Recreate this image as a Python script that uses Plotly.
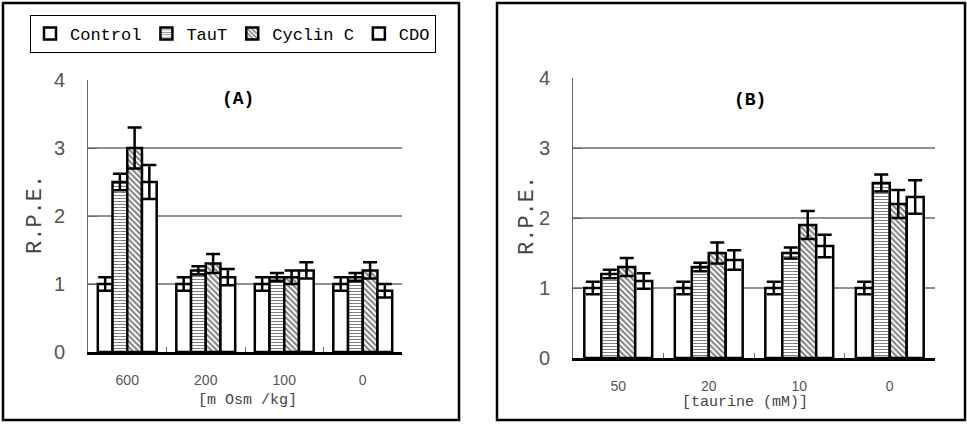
import plotly.graph_objects as go

# ---------------- data ----------------
series_names = ["Control", "TauT", "Cyclin C", "CDO"]

osm_labels = ["600", "200", "100", "0"]
A_control = [1.0, 1.0, 1.0, 1.0]
A_control_err = [0.1, 0.1, 0.1, 0.1]
A_taut = [2.5, 1.2, 1.1, 1.1]
A_taut_err = [0.12, 0.06, 0.06, 0.06]
A_cyclin = [3.0, 1.3, 1.1, 1.2]
A_cyclin_err = [0.3, 0.14, 0.1, 0.12]
A_cdo = [2.5, 1.1, 1.2, 0.9]
A_cdo_err = [0.25, 0.12, 0.12, 0.1]

taurine_labels = ["50", "20", "10", "0"]
B_control = [1.0, 1.0, 1.0, 1.0]
B_control_err = [0.09, 0.09, 0.09, 0.09]
B_taut = [1.2, 1.3, 1.5, 2.5]
B_taut_err = [0.06, 0.06, 0.08, 0.12]
B_cyclin = [1.3, 1.5, 1.9, 2.2]
B_cyclin_err = [0.13, 0.15, 0.2, 0.2]
B_cdo = [1.1, 1.4, 1.6, 2.3]
B_cdo_err = [0.11, 0.14, 0.16, 0.24]

y_ticks = [0, 1, 2, 3, 4]
grid_levels = [1, 2, 3]

# ---------------- styling ----------------
W, H = 967, 424
FONT = "Liberation Mono"
NUMFONT = "Liberation Sans"
patterns = [
    dict(shape=""),
    dict(shape="-", size=3, solidity=0.35, fgcolor="black", bgcolor="white"),
    dict(shape="\\", size=4, solidity=0.5, fgcolor="black", bgcolor="white"),
    dict(shape=""),
]


def px_x(p):
    return p / W


def px_y(p):
    return 1 - p / H


fig = go.Figure()

panels = [
    ("x", "y", osm_labels,
     [(A_control, A_control_err), (A_taut, A_taut_err), (A_cyclin, A_cyclin_err), (A_cdo, A_cdo_err)], True),
    ("x2", "y2", taurine_labels,
     [(B_control, B_control_err), (B_taut, B_taut_err), (B_cyclin, B_cyclin_err), (B_cdo, B_cdo_err)], False),
]

for xa, ya, cats, sers, show in panels:
    for name, (vals, errs), pat in zip(series_names, sers, patterns):
        fig.add_trace(go.Bar(
            x=cats, y=vals, name=name, xaxis=xa, yaxis=ya,
            showlegend=show, legendgroup=name,
            marker=dict(color="white", line=dict(color="black", width=2.5), pattern=pat),
            error_y=dict(type="data", array=errs, visible=True, color="black",
                         thickness=2.5, width=7),
        ))

axis_common_x = dict(
    type="category", showline=True, linecolor="black", linewidth=2.5,
    ticks="inside", ticklen=5, tickcolor="#666", tickwidth=1, tickson="boundaries",
    showgrid=False, tickfont=dict(family=NUMFONT, size=14, color="#555"),
    ticklabelstandoff=13, automargin=False, fixedrange=True,
)
axis_common_y = dict(
    range=[0, 4], tickvals=y_ticks, showline=True, linecolor="#666", linewidth=1,
    ticks="inside", ticklen=9, tickcolor="#666", tickwidth=1,
    showgrid=False, zeroline=False, tickfont=dict(family=NUMFONT, size=20, color="#555"),
    ticklabelstandoff=18, automargin=False, fixedrange=True,
)

fig.update_layout(
    width=W, height=H,
    margin=dict(l=0, r=0, t=0, b=0),
    paper_bgcolor="white", plot_bgcolor="white",
    barmode="group", bargap=0.25, bargroupgap=0,
    xaxis=dict(domain=[px_x(88), px_x(402)], anchor="y", **axis_common_x),
    yaxis=dict(domain=[px_y(352), px_y(80)], anchor="x", **axis_common_y),
    xaxis2=dict(domain=[px_x(573), px_x(935)], anchor="y2", **axis_common_x),
    yaxis2=dict(domain=[px_y(358), px_y(78)], anchor="x2", **axis_common_y),
    legend=dict(
        orientation="h", x=px_x(30), y=px_y(15), xanchor="left", yanchor="top",
        bordercolor="black", borderwidth=1, bgcolor="white",
        font=dict(family=FONT, size=17, color="black"),
        itemwidth=30, tracegroupgap=0,
    ),
    showlegend=True,
)

shapes = []
# gridlines
for ya, xa in (("y", "x"), ("y2", "x2")):
    for g in grid_levels:
        shapes.append(dict(type="line", xref=f"{xa} domain", yref=ya, x0=0, x1=1, y0=g, y1=g,
                           line=dict(color="#222", width=1), layer="below"))
# panel frames
shapes.append(dict(type="rect", xref="paper", yref="paper",
                   x0=px_x(3), x1=px_x(459), y0=px_y(420), y1=px_y(3),
                   line=dict(color="black", width=2.5)))
shapes.append(dict(type="rect", xref="paper", yref="paper",
                   x0=px_x(497), x1=px_x(965), y0=px_y(420), y1=px_y(3),
                   line=dict(color="black", width=2.5)))
fig.update_layout(shapes=shapes)


def label(text, x, y, size, color, angle=0):
    return dict(text=text, x=px_x(x), y=px_y(y), xref="paper", yref="paper",
                xanchor="center", yanchor="middle", showarrow=False, textangle=angle,
                font=dict(family=FONT, size=size, color=color))


ann = [
    label("<b>(A)</b>", 238, 99, 18, "black"),
    label("<b>(B)</b>", 750, 100, 18, "black"),
    label("R.P.E.", 35, 215, 22, "#444", -90),
    label("R.P.E.", 527, 216, 22, "#444", -90),
    label("[m Osm /kg]", 247, 400, 15, "#444"),
    label("[taurine (mM)]", 745, 402, 15, "#444"),
]
fig.update_layout(annotations=ann)

fig.write_html("out.html", config={"displayModeBar": False},
               post_script="document.body.style.margin='0px';")
